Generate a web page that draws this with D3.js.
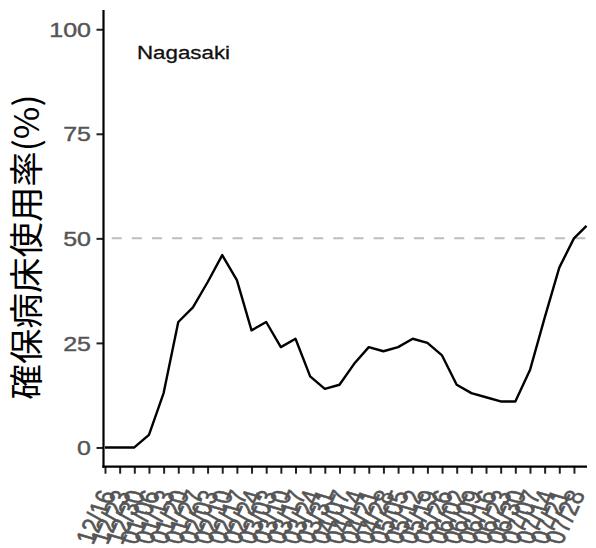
<!DOCTYPE html>
<html>
<head>
<meta charset="utf-8">
<script src="https://cdn.jsdelivr.net/npm/d3@7"></script>
<style>
  html, body { margin: 0; padding: 0; background: #ffffff; }
  svg { display: block; }
</style>
</head>
<body>
<svg id="chart" width="596" height="548"></svg>
<script>
// ---- data ----
const pointDates = [
  "2020-12-16","2020-12-23","2020-12-30","2021-01-06","2021-01-13","2021-01-20",
  "2021-01-27","2021-02-03","2021-02-10","2021-02-17","2021-02-24","2021-03-03",
  "2021-03-10","2021-03-17","2021-03-24","2021-03-31","2021-04-07","2021-04-14",
  "2021-04-21","2021-04-28","2021-05-05","2021-05-12","2021-05-19","2021-05-26",
  "2021-06-02","2021-06-09","2021-06-16","2021-06-23","2021-06-30","2021-07-07",
  "2021-07-14","2021-07-21","2021-07-28","2021-08-03"
];
const bedUseRate = [
  0, 0, 0, 3, 13, 30, 33.5, 39.5, 46, 40, 28, 30,
  24, 26, 17, 14, 15, 20, 24, 23, 24, 26, 25, 22,
  15, 13, 12, 11, 11, 18.5, 31, 43, 50, 53
];
const tickDates = [
  "2020-12-16","2020-12-23","2020-12-30","2021-01-06","2021-01-13","2021-01-20",
  "2021-01-27","2021-02-03","2021-02-10","2021-02-17","2021-02-24","2021-03-03",
  "2021-03-10","2021-03-17","2021-03-24","2021-03-31","2021-04-07","2021-04-14",
  "2021-04-21","2021-04-28","2021-05-05","2021-05-12","2021-05-19","2021-05-26",
  "2021-06-02","2021-06-09","2021-06-16","2021-06-23","2021-06-30","2021-07-07",
  "2021-07-14","2021-07-21","2021-07-28"
];
const tickLabels = [
  "12/16","12/23","12/30","01/06","01/13","01/20","01/27","02/03","02/10","02/17",
  "02/24","03/03","03/10","03/17","03/24","03/31","04/07","04/14","04/21","04/28",
  "05/05","05/12","05/19","05/26","06/02","06/09","06/16","06/23","06/30","07/07",
  "07/14","07/21","07/28"
];
const yTicks = [0, 25, 50, 75, 100];
const referenceLevel = 50;
const regionName = "Nagasaki";
const yTitle = "確保病床使用率(%)";

// ---- layout ----
const parse = d3.timeParse("%Y-%m-%d");
const svg = d3.select("#chart");
const latin = "'Liberation Sans', Arial, sans-serif";
const cjk = "'Noto Sans CJK JP', 'Noto Sans CJK SC', sans-serif";
const stretch = 1.25;

const x = d3.scaleTime()
  .domain([parse(pointDates[0]), parse(pointDates[pointDates.length - 1])])
  .range([105, 586.5]);
const y = d3.scaleLinear()
  .domain([-4.6, 104.6])
  .range([466.7, 10]);

const panelLeft = 103.5, panelRight = 587;

// reference dashed line
svg.append("line")
  .attr("x1", panelLeft + 1).attr("x2", panelRight)
  .attr("y1", y(referenceLevel)).attr("y2", y(referenceLevel))
  .attr("stroke", "#bdbdbd").attr("stroke-width", 2)
  .attr("stroke-dasharray", "10.1,10.05").attr("stroke-dashoffset", 13);

// data line
const series = pointDates.map((d, i) => ({ date: parse(d), value: bedUseRate[i] }));
svg.append("path")
  .datum(series)
  .attr("fill", "none")
  .attr("stroke", "#000")
  .attr("stroke-width", 2.4)
  .attr("stroke-linejoin", "round")
  .attr("d", d3.line().x(d => x(d.date)).y(d => y(d.value)));

// y axis
const yAxis = svg.append("g").attr("transform", `translate(${panelLeft},0)`)
  .call(d3.axisLeft(y).tickValues(yTicks).tickSize(7).tickPadding(0).tickFormat(d3.format("d")));
yAxis.select(".domain").remove();
yAxis.append("line").attr("x1", 0).attr("x2", 0).attr("y1", y.range()[1]).attr("y2", y.range()[0] + 1)
  .attr("stroke", "#000").attr("stroke-width", 2.2);
yAxis.selectAll(".tick line").attr("stroke", "#222").attr("stroke-width", 2);
yAxis.selectAll(".tick text")
  .attr("x", null).attr("dy", null)
  .attr("fill", "#555").attr("stroke", "#555").attr("stroke-width", 0.4)
  .style("font-family", latin).style("font-size", "20px")
  .attr("text-anchor", "end")
  .attr("transform", `translate(-12.5,7.2) scale(${stretch},1)`);

// x axis
const xAxis = svg.append("g").attr("transform", `translate(0,${y.range()[0]})`)
  .call(d3.axisBottom(x).tickValues(tickDates.map(parse)).tickSize(7).tickFormat((d, i) => tickLabels[i]));
xAxis.select(".domain").remove();
xAxis.append("line").attr("x1", panelLeft - 1.1).attr("x2", panelRight).attr("y1", 0).attr("y2", 0)
  .attr("stroke", "#000").attr("stroke-width", 2.2);
xAxis.selectAll(".tick line").attr("stroke", "#222").attr("stroke-width", 2);
xAxis.selectAll(".tick text")
  .attr("y", null).attr("dy", null)
  .attr("fill", "#555").attr("stroke", "#555").attr("stroke-width", 0.5)
  .style("font-family", latin).style("font-size", "22px")
  .attr("text-anchor", "end")
  .attr("transform", `translate(11,27) scale(${stretch},1) rotate(-70)`);

// region label
svg.append("text")
  .attr("x", 137).attr("y", 59)
  .attr("textLength", 93).attr("lengthAdjust", "spacingAndGlyphs")
  .style("font-family", latin).style("font-size", "18px")
  .attr("fill", "#111").attr("stroke", "#111").attr("stroke-width", 0.3)
  .text(regionName);

// y title
svg.append("text")
  .attr("transform", "translate(39,247) rotate(-90)")
  .attr("text-anchor", "middle")
  .attr("textLength", 305).attr("lengthAdjust", "spacingAndGlyphs")
  .style("font-family", cjk).style("font-size", "34px")
  .attr("fill", "#000")
  .text(yTitle);
</script>
</body>
</html>
